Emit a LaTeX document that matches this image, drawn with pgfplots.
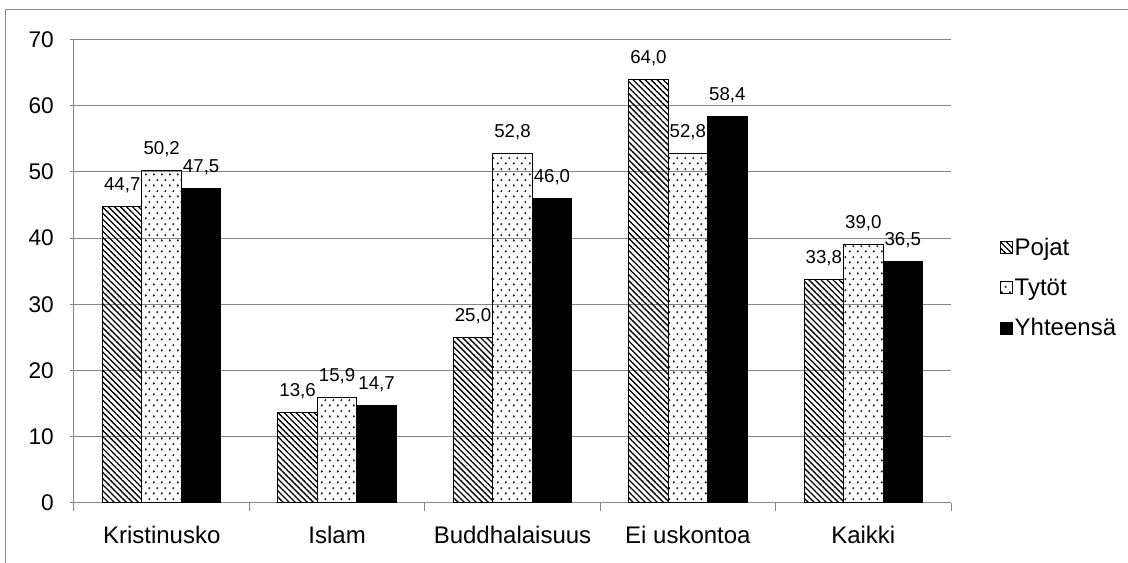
\documentclass[border=0pt]{standalone}
\usepackage{fontspec}
\setmainfont{Liberation Sans}
\usepackage{pgfplots}
\usepackage{pgfplotstable}
\pgfplotsset{compat=1.18}
\usetikzlibrary{patterns.meta}
\definecolor{axisgray}{HTML}{868686}
\definecolor{framegray}{HTML}{8C8C8C}
\pgfdeclarepattern{
  name=mydots,
  parameters={},
  bottom left={\pgfpoint{0pt}{0pt}},
  top right={\pgfpoint{6pt}{8.4pt}},
  tile size={\pgfpoint{6pt}{8.4pt}},
  code={
    \pgfpathcircle{\pgfpoint{1.5pt}{2.1pt}}{0.95pt}
    \pgfpathcircle{\pgfpoint{4.5pt}{6.3pt}}{0.95pt}
    \pgfusepath{fill}
  }
}
\pgfplotstableread{
x p t y
0 44.7 50.2 47.5
1 13.6 15.9 14.7
2 25.0 52.8 46.0
3 64.0 52.8 58.4
4 33.8 39.0 36.5
}\data
\begin{document}
\begin{tikzpicture}
\begin{axis}[
  scale only axis, width=657.75pt, height=347.8pt,
  ymin=0, ymax=70, ytick={0,10,...,70},
  xmin=-0.5, xmax=4.5,
  xtick={-0.5,0.5,1.5,2.5,3.5,4.5},
  x tick label as interval,
  xticklabels={Kristinusko,Islam,Buddhalaisuus,Ei uskontoa,Kaikki},
  tick align=outside, major tick length=6pt,
  axis lines=left, axis line style={-, draw=axisgray, line width=0.75pt},
  tick style={draw=axisgray, line width=0.75pt},
  ymajorgrids, grid style={draw=axisgray, line width=0.75pt},
  /pgf/number format/assume math mode=true,
  yticklabel style={font=\fontsize{17}{20}\selectfont, anchor=east, inner sep=0pt, xshift=-12pt},
  xticklabel style={font=\fontsize{18}{21}\selectfont, anchor=north, inner sep=0pt, yshift=-11pt},
  ybar=0pt, bar width=0.225,
  nodes near coords={\pgfmathprintnumber[fixed,fixed zerofill,precision=1,use comma]{\pgfplotspointmeta}},
  nodes near coords style={font=\fontsize{14}{16}\selectfont, anchor=base, inner sep=0pt, yshift=12pt},
  legend style={at={(1.056,0.4637)}, anchor=west, draw=none, fill=none,
    font=\fontsize{18}{21}\selectfont, row sep=14pt, inner sep=0pt,
    nodes={inner sep=1pt}, cells={anchor=west}},
  legend image code/.code={\draw[#1, line width=0.75pt] (0pt,-4.5pt) rectangle (9pt,4.5pt);},
]
\addplot[draw=black, line width=0.75pt, pattern={Lines[angle=-45,distance=3.2pt,line width=1pt]}] table[x=x,y=p]{\data};
\addplot[draw=black, line width=0.75pt, pattern=mydots, pattern color=black!85] table[x=x,y=t]{\data};
\addplot[draw=black, line width=0.75pt, fill=black] table[x=x,y=y]{\data};
\legend{Pojat,Tytöt,Yhteensä}
\coordinate (O) at (axis description cs:0,0);
\end{axis}
\path[use as bounding box] ([shift={(-55.5pt,-45pt)}]O) rectangle ([shift={(790.5pt,377.25pt)}]O);
\draw[framegray, line width=0.75pt] ([shift={(-51pt,-60pt)}]O) -- ([shift={(-51pt,369.75pt)}]O) -- ([shift={(810pt,369.75pt)}]O);
\end{tikzpicture}
\end{document}
